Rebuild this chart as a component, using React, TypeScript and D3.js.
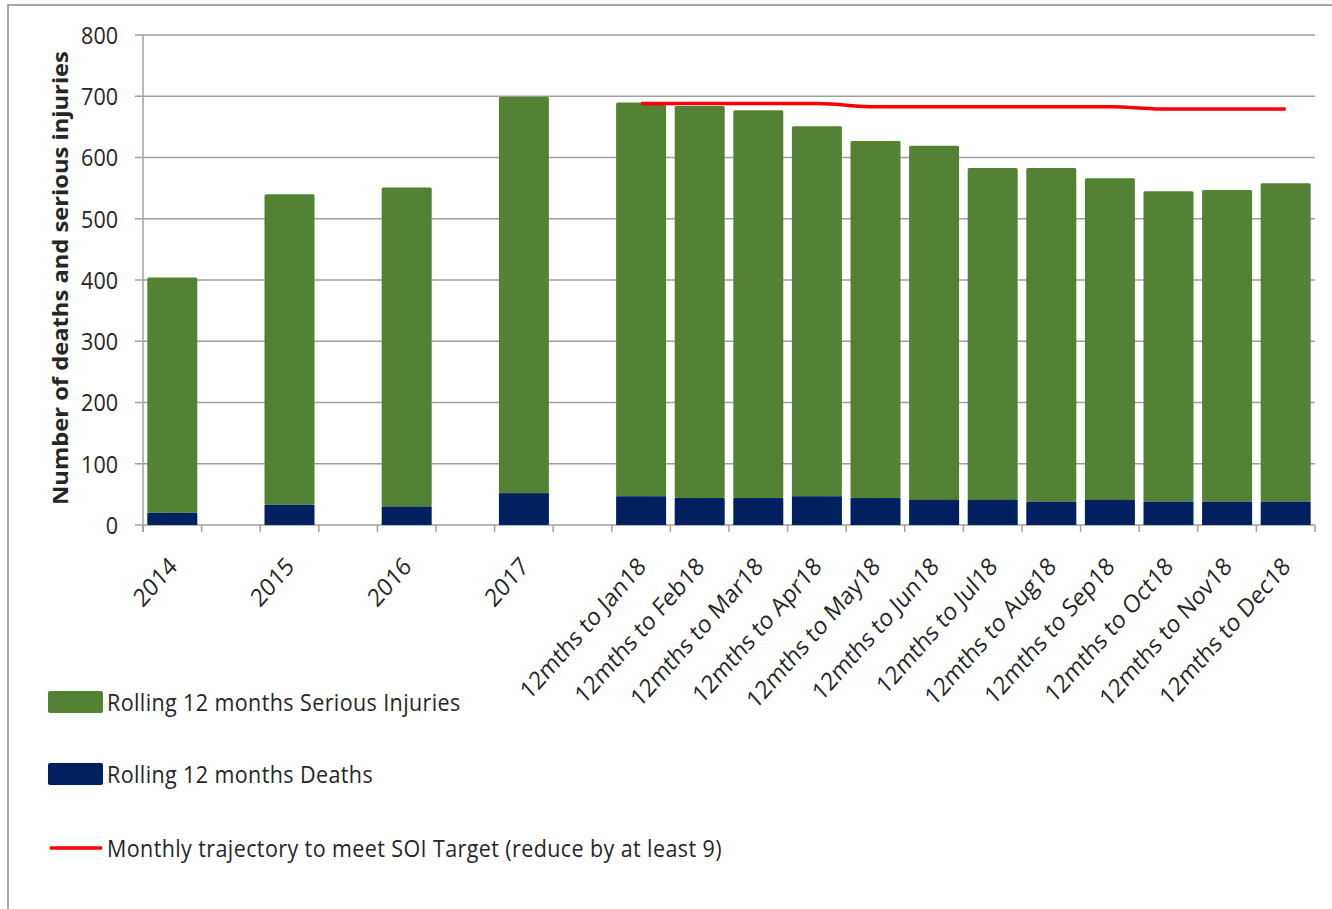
import React from "react";
import * as d3 from "d3";

const categories = [
  "2014", "", "2015", "", "2016", "", "2017", "",
  "12mths to Jan18", "12mths to Feb18", "12mths to Mar18", "12mths to Apr18",
  "12mths to May18", "12mths to Jun18", "12mths to Jul18", "12mths to Aug18",
  "12mths to Sep18", "12mths to Oct18", "12mths to Nov18", "12mths to Dec18",
];
const totals = [404, null, 540, null, 551, null, 699, null,
  690, 684, 677, 651, 627, 619, 583, 583, 566, 545, 547, 558];
const deaths = [20, null, 33, null, 30, null, 52, null,
  47, 44, 44, 47, 44, 41, 41, 38, 41, 38, 38, 38];
const target = [null, null, null, null, null, null, null, null,
  688, 688, 688, 688, 683, 683, 683, 683, 683, 679, 679, 679];
const yTicks = [0, 100, 200, 300, 400, 500, 600, 700, 800];
const legendLabels = [
  "Rolling 12 months Serious Injuries",
  "Rolling 12 months Deaths",
  "Monthly trajectory to meet SOI Target (reduce by at least 9)",
];

const GREEN = "#548235";
const NAVY = "#002060";
const RED = "#ff0000";
const GRID = "#a0a0a0";
const TEXT = "#262626";
const FONT = "'Open Sans', sans-serif";
const SY = 1.13;

export default function App() {
  const W = 1332, H = 909;
  const left = 143, right = 1315, top = 35, bottom = 525;
  const x = d3.scaleBand<number>().domain(categories.map((_, i) => i)).range([left, right]).paddingInner(0).paddingOuter(0);
  const y = d3.scaleLinear().domain([0, 800]).range([bottom, top]);
  const bw = 50;
  const cx = (i: number) => (x(i) as number) + x.bandwidth() / 2;

  const line = d3.line<number | null>()
    .defined((d) => d != null)
    .x((_, i) => cx(i))
    .y((d) => y(d as number))
    .curve(d3.curveMonotoneX);

  const boundaries = d3.range(categories.length + 1).map((k) => left + k * x.bandwidth());

  const legendRows = [
    { y: 702, kind: "rect", color: GREEN, label: legendLabels[0] },
    { y: 774, kind: "rect", color: NAVY, label: legendLabels[1] },
    { y: 848, kind: "line", color: RED, label: legendLabels[2] },
  ];

  return (
    <div style={{ position: "fixed", left: 0, top: 0 }}>
      <svg width={W} height={H} style={{ display: "block", background: "#fff" }} fontFamily={FONT}>
        <rect x={8} y={5} width={W + 10} height={H + 10} fill="#fff" stroke="#8c8c8c" strokeWidth={1.5} />
        {yTicks.map((t) => (
          <g key={t}>
            <line x1={135} x2={right} y1={y(t)} y2={y(t)} stroke={GRID} strokeWidth={1.5} />
            <text transform={`translate(118,${y(t)}) scale(1,${SY})`} dy="0.36em" textAnchor="end" fontSize={21.5} fill={TEXT}>{t}</text>
          </g>
        ))}
        <line x1={left} x2={left} y1={top} y2={bottom + 7} stroke={GRID} strokeWidth={1.5} />
        {boundaries.map((b, k) => (
          <line key={k} x1={b} x2={b} y1={bottom} y2={bottom + 7} stroke={GRID} strokeWidth={1.5} />
        ))}
        {categories.map((c, i) => {
          const t = totals[i];
          const d = deaths[i];
          if (t == null || d == null) return null;
          const x0 = cx(i) - bw / 2;
          return (
            <g key={i}>
              <rect x={x0} y={y(t)} width={bw} height={y(d) - y(t)} fill={GREEN} rx={1.5} />
              <rect x={x0} y={y(d)} width={bw} height={y(0) - y(d)} fill={NAVY} />
            </g>
          );
        })}
        <path d={line(target) || ""} fill="none" stroke={RED} strokeWidth={3.5} />
        {categories.map((c, i) => c ? (
          <text key={i} transform={`translate(${cx(i) + 6},568) scale(1,${SY}) rotate(-45)`} textAnchor="end" fontSize={22} fill={TEXT}>{c}</text>
        ) : null)}
        <text transform={`translate(68,${(48 + 508) / 2}) scale(1,${SY}) rotate(-90)`} textAnchor="middle" fontSize={21} fontWeight="bold" fill={TEXT}>
          Number of deaths and serious injuries
        </text>
        {legendRows.map((r, k) => (
          <g key={k}>
            {r.kind === "rect" ? (
              <rect x={48} y={r.y - 11} width={55} height={22} rx={2} fill={r.color} />
            ) : (
              <line x1={50} x2={102} y1={r.y} y2={r.y} stroke={r.color} strokeWidth={3.5} />
            )}
            <text transform={`translate(107,${r.y}) scale(1,${SY})`} dy="0.36em" fontSize={21.5} letterSpacing={0.4} fill={TEXT}>{r.label}</text>
          </g>
        ))}
      </svg>
    </div>
  );
}
